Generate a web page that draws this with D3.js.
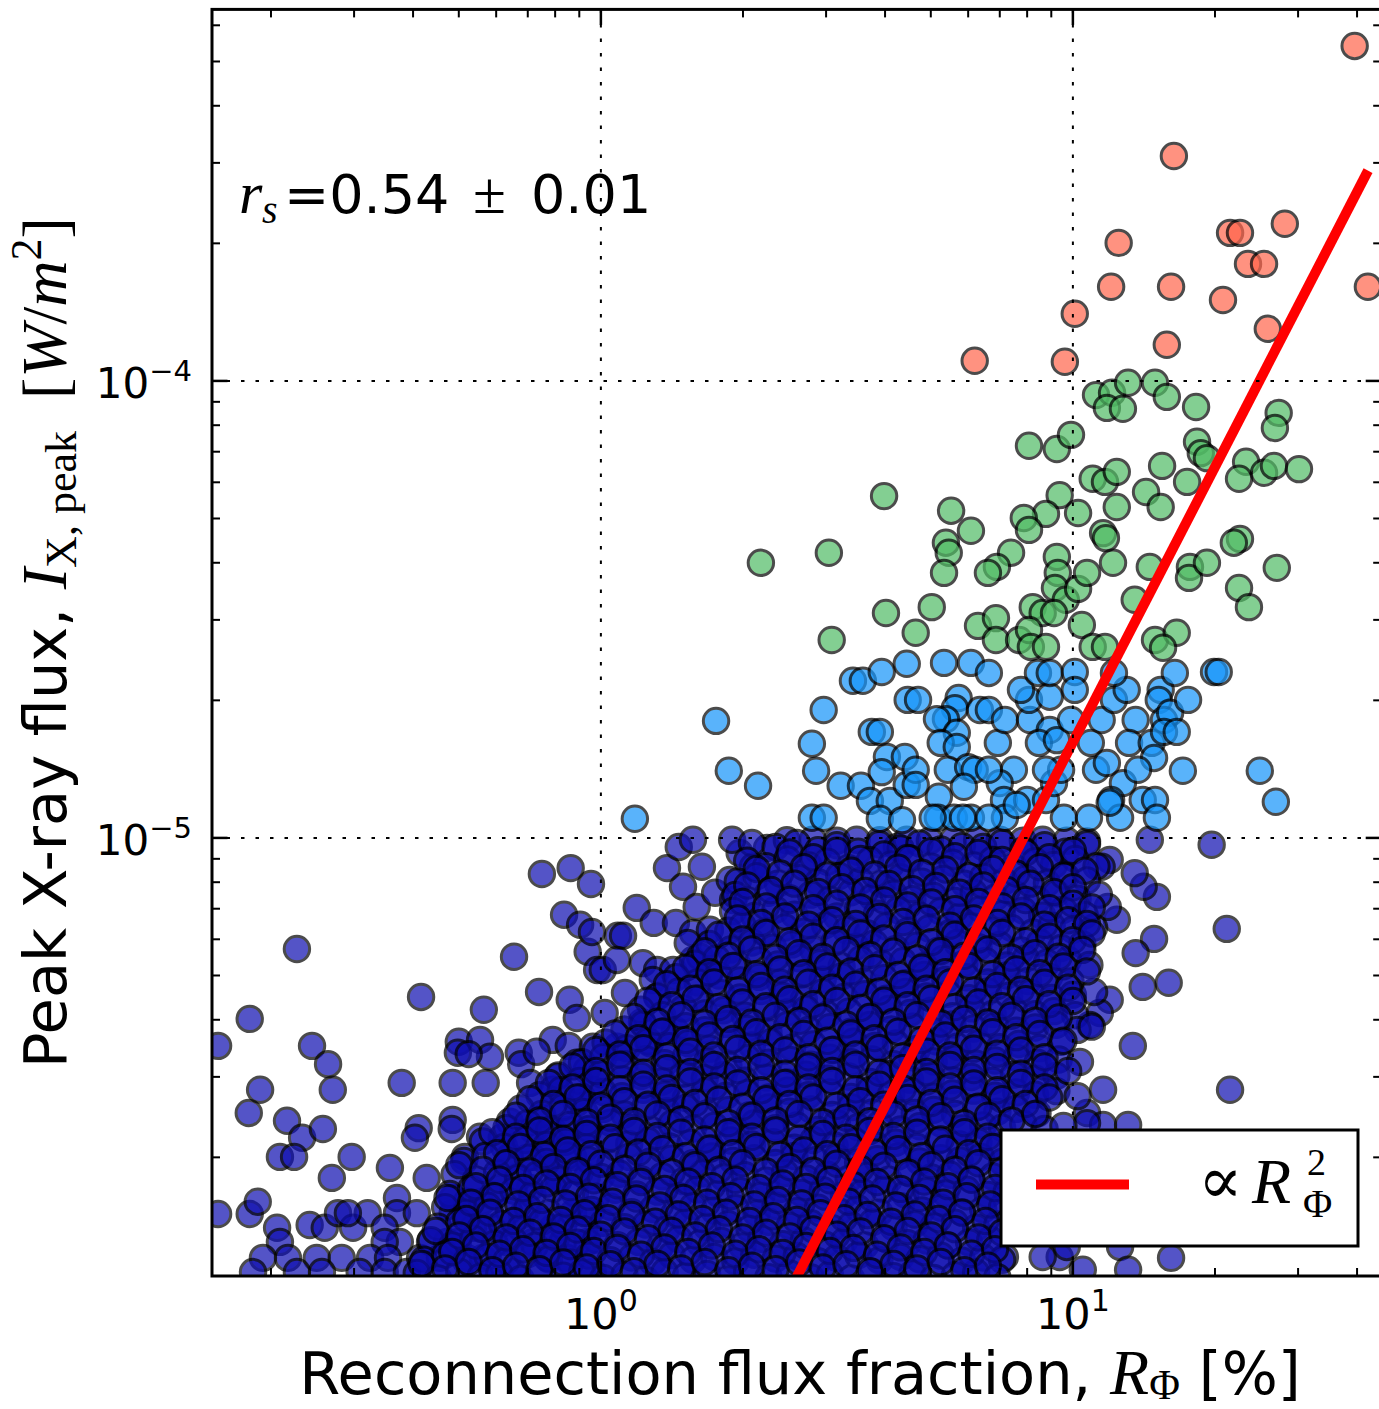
<!DOCTYPE html>
<html>
<head>
<meta charset="utf-8">
<script src="https://cdn.jsdelivr.net/npm/d3@7"></script>
<style>
  html, body { margin: 0; padding: 0; background: #ffffff; }
  svg { display: block; }
</style>
</head>
<body>
<svg id="chart" width="1379" height="1409"></svg>
<script>
// Each flare: [log10 R_Φ (%), log10 I_X,peak (W/m²)]

// C-class flares (I < 1e-5), scattered outskirts of the cloud
const cFlaresOuter = [
  [-0.644,-5.243],[-0.744,-5.396],[-0.811,-5.455],[-0.612,-5.455],[-0.578,-5.495],[-0.568,-5.551],[-0.722,-5.551],[-0.746,-5.602],
  [-0.665,-5.619],[-0.633,-5.656],[-0.589,-5.637],[-0.680,-5.698],[-0.650,-5.698],[-0.528,-5.698],[-0.570,-5.744],[-0.447,-5.722],
  [-0.369,-5.744],[-0.381,-5.348],[-0.422,-5.536],[-0.386,-5.635],[-0.394,-5.656],[-0.314,-5.617],[-0.316,-5.637],[-0.314,-5.536],
  [-0.244,-5.536],[-0.248,-5.376],[-0.301,-5.446],[-0.303,-5.470],[-0.256,-5.442],[-0.235,-5.479],[-0.280,-5.473],[-0.184,-5.260],
  [-0.131,-5.337],[-0.066,-5.354],[-0.051,-5.394],[-0.078,-5.168],[-0.044,-5.190],[-0.028,-5.249],[-0.008,-5.289],[-0.174,-5.470],
  [-0.169,-5.495],[-0.150,-5.536],[-0.102,-5.442],[-0.068,-5.455],[-0.017,-5.457],[-0.136,-5.468],[-0.093,-5.523],[-0.102,-5.551],
  [-0.051,-5.492],[-0.030,-5.508],[-0.288,-5.698],[-0.256,-5.654],[-0.210,-5.656],[-0.193,-5.621],[-0.144,-5.639],[-0.123,-5.613],
  [-0.811,-5.823],[-0.744,-5.823],[-0.727,-5.796],[-0.686,-5.853],[-0.680,-5.884],[-0.663,-5.919],[-0.716,-5.919],[-0.737,-5.950],
  [-0.617,-5.847],[-0.585,-5.853],[-0.557,-5.821],[-0.525,-5.853],[-0.494,-5.821],[-0.536,-5.821],[-0.602,-5.919],[-0.549,-5.919],
  [-0.591,-5.950],[-0.644,-5.950],[-0.432,-5.788],[-0.432,-5.821],[-0.390,-5.821],[-0.458,-5.853],[-0.426,-5.884],[-0.458,-5.884],
  [-0.489,-5.919],[-0.451,-5.919],[-0.511,-5.950],[-0.458,-5.950],[-0.411,-5.950],[-0.383,-5.919],[-0.362,-5.884],[-0.341,-5.919],
  [-0.326,-5.884],[-0.303,-5.884],[-0.314,-5.821],[-0.288,-5.821],[-0.314,-5.788],[-0.284,-5.796],[-0.252,-5.796],[-0.214,-5.766],
  [-0.176,-5.742],[-0.231,-5.853],[-0.271,-5.853],[-0.284,-5.919],[-0.250,-5.919],[-0.229,-5.950],[-0.186,-5.950],[-0.199,-5.884],
  [-0.167,-5.825],[-0.150,-5.766],[-0.144,-5.884],[-0.102,-5.853],[-0.081,-5.884],[-0.114,-5.919],[-0.072,-5.919],[-0.059,-5.821],
  [-0.087,-5.744],[-0.114,-5.698],[-0.059,-5.698],[-0.030,-5.742],[-0.028,-5.821],[-0.028,-5.884],[-0.017,-5.950],[-0.102,-5.639],
  [-0.072,-5.639],[-0.030,-5.639],[-0.051,-5.580],[-0.017,-5.551],[-0.146,-5.698],[-0.193,-5.698],
  [-0.125,-5.079],[-0.064,-5.066],[-0.021,-5.101],[-0.019,-5.206],[0.076,-5.153],[0.112,-5.186],[0.159,-5.186],[0.036,-5.214],
  [0.047,-5.214],[0.140,-5.066],[0.165,-5.020],[0.195,-5.004],[0.174,-5.107],[0.004,-5.289],[0.034,-5.267],[0.089,-5.274],
  [0.119,-5.289],[0.153,-5.289],[0.195,-5.267],[0.195,-5.208],[0.203,-5.151],
  [0.214,-5.063],[0.242,-5.120],[0.231,-5.201],[0.184,-5.230],[0.110,-5.311],[0.051,-5.339],[0.008,-5.383],[0.119,-5.348],
  [0.087,-5.403],[0.157,-5.420],[0.210,-5.260],[0.231,-5.295],[0.034,-5.457],[0.104,-5.449],[0.273,-5.092],[0.280,-5.136],
  [0.294,-5.033],[0.352,-5.022],[0.322,-5.063],[0.278,-5.004],[0.320,-5.011],
  [0.394,-5.005],[0.449,-5.004],[0.500,-5.006],[0.542,-5.004],[0.591,-5.005],[0.627,-5.020],[0.648,-5.004],[0.697,-5.006],
  [0.746,-5.004],[0.797,-5.005],[0.845,-5.004],[0.894,-5.006],[0.936,-5.004],[0.987,-5.006],[1.030,-5.008],
  [1.294,-5.015],[1.326,-5.199],[1.203,-5.317],[1.148,-5.326],[1.172,-5.221],[1.133,-5.252],[1.127,-5.455],[1.333,-5.551],
  [1.178,-5.129],[1.150,-5.107],[1.131,-5.077],[1.078,-5.048],[1.061,-5.063],[1.093,-5.179],[1.074,-5.151],[1.078,-5.354],
  [1.057,-5.383],[1.036,-5.409],[1.064,-5.551],[1.030,-5.602],[1.064,-5.628],[1.117,-5.628],[1.163,-5.004],
  [1.208,-5.919],[1.100,-5.895],[1.117,-5.945],[1.021,-5.945],[0.972,-5.917],[0.936,-5.917],[0.856,-5.917],[0.987,-5.895],
  [1.030,-5.624]
];

// C-class flares, the crowded core of the cloud
const cFlaresCore = [
  [.37,-5.02],[.415,-5.011],[.46,-5.027],[.50,-5.016],[.545,-5.03],[.59,-5.014],[.635,-5.023],[.675,-5.012],[.72,-5.025],[.765,-5.018],[.81,-5.02],[.85,-5.011],[.895,-5.027],[.94,-5.016],[.985,-5.03],[1.03,-5.014],
  [.31,-5.05],[.35,-5.062],[.395,-5.047],[.44,-5.06],[.48,-5.052],[.525,-5.066],[.57,-5.049],[.615,-5.058],[.655,-5.045],[.70,-5.063],[.745,-5.054],[.79,-5.06],[.83,-5.048],[.875,-5.064],[.92,-5.051],[.96,-5.059],[1.005,-5.046],[1.05,-5.062],
  [.29,-5.095],[.33,-5.084],[.375,-5.1],[.42,-5.088],[.46,-5.097],[.505,-5.083],[.55,-5.094],[.595,-5.101],[.635,-5.086],[.68,-5.096],[.725,-5.09],[.77,-5.1],[.81,-5.085],[.855,-5.095],[.90,-5.089],[.945,-5.099],[.985,-5.084],[1.03,-5.093],
  [.285,-5.125],[.31,-5.137],[.355,-5.12],[.40,-5.132],[.445,-5.124],[.485,-5.136],[.53,-5.119],[.575,-5.13],[.62,-5.122],[.66,-5.134],[.705,-5.127],[.75,-5.138],[.79,-5.12],[.835,-5.131],[.88,-5.125],[.925,-5.135],[.965,-5.121],[1.01,-5.133],[1.055,-5.124],
  [.28,-5.16],[.325,-5.171],[.37,-5.157],[.41,-5.168],[.455,-5.16],[.50,-5.172],[.545,-5.155],[.585,-5.166],[.63,-5.158],[.675,-5.17],[.72,-5.161],[.76,-5.173],[.805,-5.156],[.85,-5.167],[.895,-5.159],[.935,-5.17],[.98,-5.157],[1.025,-5.169],
  [.27,-5.203],[.30,-5.192],[.345,-5.207],[.39,-5.196],[.43,-5.205],[.475,-5.191],[.52,-5.202],[.565,-5.209],[.605,-5.194],[.65,-5.204],[.695,-5.198],[.74,-5.208],[.78,-5.193],[.825,-5.203],[.87,-5.197],[.915,-5.207],[.955,-5.192],[1.0,-5.201],[1.045,-5.196],
  [.23,-5.232],[.275,-5.244],[.32,-5.229],[.365,-5.24],[.405,-5.233],[.45,-5.245],[.495,-5.228],[.54,-5.238],[.58,-5.231],[.625,-5.243],[.67,-5.236],[.715,-5.247],[.755,-5.23],[.80,-5.239],[.845,-5.234],[.89,-5.246],[.93,-5.229],[.975,-5.241],[1.02,-5.233],
  [.20,-5.275],[.245,-5.264],[.29,-5.279],[.335,-5.268],[.375,-5.277],[.42,-5.263],[.465,-5.274],[.51,-5.281],[.55,-5.266],[.595,-5.276],[.64,-5.27],[.685,-5.28],[.725,-5.265],[.77,-5.275],[.815,-5.269],[.86,-5.279],[.90,-5.264],[.945,-5.273],[.99,-5.267],[1.035,-5.278],
  [.16,-5.305],[.205,-5.316],[.25,-5.301],[.295,-5.312],[.335,-5.304],[.38,-5.317],[.425,-5.299],[.47,-5.31],[.51,-5.303],[.555,-5.315],[.60,-5.307],[.645,-5.318],[.685,-5.3],[.73,-5.311],[.775,-5.305],[.82,-5.316],[.86,-5.301],[.905,-5.313],[.95,-5.304],[.995,-5.314],
  [.12,-5.347],[.165,-5.336],[.21,-5.351],[.255,-5.34],[.295,-5.349],[.34,-5.335],[.385,-5.346],[.43,-5.353],[.47,-5.338],[.515,-5.348],[.56,-5.342],[.605,-5.352],[.645,-5.337],[.69,-5.347],[.735,-5.341],[.78,-5.351],[.82,-5.336],[.865,-5.345],[.91,-5.339],[.955,-5.35],[1.0,-5.343],[1.045,-5.337],
  [.085,-5.376],[.13,-5.388],[.175,-5.373],[.22,-5.384],[.26,-5.377],[.305,-5.389],[.35,-5.372],[.395,-5.382],[.435,-5.375],[.48,-5.387],[.525,-5.38],[.57,-5.391],[.61,-5.374],[.655,-5.383],[.70,-5.378],[.745,-5.39],[.785,-5.373],[.83,-5.385],[.875,-5.377],[.92,-5.386],[.96,-5.379],[1.005,-5.388],
  [.05,-5.419],[.09,-5.408],[.135,-5.423],[.18,-5.412],[.22,-5.421],[.265,-5.407],[.31,-5.418],[.355,-5.425],[.395,-5.41],[.44,-5.42],[.485,-5.414],[.53,-5.424],[.57,-5.409],[.615,-5.419],[.66,-5.413],[.705,-5.423],[.745,-5.408],[.79,-5.417],[.835,-5.411],[.88,-5.422],[.92,-5.415],[.965,-5.409],[1.01,-5.42],[1.04,-5.413],
  [.01,-5.448],[.055,-5.46],[.10,-5.445],[.145,-5.456],[.185,-5.449],[.23,-5.461],[.275,-5.444],[.32,-5.454],[.36,-5.447],[.405,-5.459],[.45,-5.452],[.495,-5.463],[.535,-5.446],[.58,-5.455],[.625,-5.45],[.67,-5.462],[.71,-5.445],[.755,-5.457],[.80,-5.449],[.845,-5.458],[.885,-5.451],[.93,-5.46],[.975,-5.446],
  [-.04,-5.491],[.005,-5.48],[.05,-5.495],[.095,-5.484],[.135,-5.493],[.18,-5.479],[.225,-5.49],[.27,-5.497],[.31,-5.482],[.355,-5.492],[.40,-5.486],[.445,-5.496],[.485,-5.481],[.53,-5.491],[.575,-5.485],[.62,-5.495],[.66,-5.48],[.705,-5.489],[.75,-5.483],[.795,-5.494],[.835,-5.487],[.88,-5.481],[.925,-5.492],[.97,-5.485],[1.015,-5.49],
  [-.09,-5.52],[-.045,-5.532],[0,-5.517],[.045,-5.528],[.085,-5.521],[.13,-5.533],[.175,-5.516],[.22,-5.526],[.26,-5.519],[.305,-5.531],[.35,-5.524],[.395,-5.535],[.435,-5.518],[.48,-5.527],[.525,-5.522],[.57,-5.534],[.61,-5.517],[.655,-5.529],[.70,-5.521],[.745,-5.53],[.785,-5.523],[.83,-5.532],[.875,-5.518],[.92,-5.527],[.965,-5.521],
  [-.13,-5.563],[-.085,-5.552],[-.04,-5.567],[.005,-5.556],[.045,-5.565],[.09,-5.551],[.135,-5.562],[.18,-5.569],[.22,-5.554],[.265,-5.564],[.31,-5.558],[.355,-5.568],[.395,-5.553],[.44,-5.563],[.485,-5.557],[.53,-5.567],[.57,-5.552],[.615,-5.561],[.66,-5.555],[.705,-5.566],[.745,-5.559],[.79,-5.553],[.835,-5.564],[.88,-5.557],[.92,-5.562],[.965,-5.554],[1.01,-5.565],
  [-.17,-5.592],[-.125,-5.604],[-.08,-5.589],[-.035,-5.6],[.005,-5.593],[.05,-5.605],[.095,-5.588],[.14,-5.598],[.18,-5.591],[.225,-5.603],[.27,-5.596],[.315,-5.607],[.355,-5.59],[.40,-5.599],[.445,-5.594],[.49,-5.606],[.53,-5.589],[.575,-5.601],[.62,-5.593],[.665,-5.602],[.705,-5.595],[.75,-5.604],[.795,-5.59],[.84,-5.599],[.88,-5.593],[.925,-5.603],
  [-.20,-5.635],[-.155,-5.624],[-.11,-5.639],[-.065,-5.628],[-.025,-5.637],[.02,-5.623],[.065,-5.634],[.11,-5.641],[.15,-5.626],[.195,-5.636],[.24,-5.63],[.285,-5.64],[.325,-5.625],[.37,-5.635],[.415,-5.629],[.46,-5.639],[.50,-5.624],[.545,-5.633],[.59,-5.627],[.635,-5.638],[.675,-5.631],[.72,-5.625],[.765,-5.636],[.81,-5.629],[.85,-5.634],[.895,-5.626],[.94,-5.637],[.98,-5.63],
  [-.25,-5.664],[-.205,-5.676],[-.16,-5.661],[-.115,-5.672],[-.075,-5.665],[-.03,-5.677],[.015,-5.66],[.06,-5.67],[.10,-5.663],[.145,-5.675],[.19,-5.668],[.235,-5.679],[.275,-5.662],[.32,-5.671],[.365,-5.666],[.41,-5.678],[.45,-5.661],[.495,-5.673],[.54,-5.665],[.585,-5.674],[.625,-5.667],[.67,-5.676],[.715,-5.662],[.76,-5.671],[.80,-5.665],[.845,-5.675],
  [-.29,-5.707],[-.245,-5.696],[-.20,-5.711],[-.155,-5.7],[-.115,-5.709],[-.07,-5.695],[-.025,-5.706],[.02,-5.713],[.06,-5.698],[.105,-5.708],[.15,-5.702],[.195,-5.712],[.235,-5.697],[.28,-5.707],[.325,-5.701],[.37,-5.711],[.41,-5.696],[.455,-5.705],[.50,-5.699],[.545,-5.71],[.585,-5.703],[.63,-5.697],[.675,-5.708],[.72,-5.701],[.76,-5.706],[.805,-5.698],[.85,-5.709],
  [-.31,-5.736],[-.265,-5.748],[-.22,-5.733],[-.175,-5.744],[-.135,-5.737],[-.09,-5.749],[-.045,-5.732],[0,-5.742],[.04,-5.735],[.085,-5.747],[.13,-5.74],[.175,-5.751],[.215,-5.734],[.26,-5.743],[.305,-5.738],[.35,-5.75],[.39,-5.733],[.435,-5.745],[.48,-5.737],[.525,-5.746],[.565,-5.739],[.61,-5.748],[.655,-5.734],[.70,-5.743],[.74,-5.737],[.785,-5.747],[.83,-5.741],
  [-.32,-5.779],[-.275,-5.768],[-.23,-5.783],[-.185,-5.772],[-.145,-5.781],[-.10,-5.767],[-.055,-5.778],[-.01,-5.785],[.03,-5.77],[.075,-5.78],[.12,-5.774],[.165,-5.784],[.205,-5.769],[.25,-5.779],[.295,-5.773],[.34,-5.783],[.38,-5.768],[.425,-5.777],[.47,-5.771],[.515,-5.782],[.555,-5.775],[.60,-5.769],[.645,-5.78],[.69,-5.773],[.73,-5.778],[.775,-5.77],[.82,-5.781],[.86,-5.774],
  [-.33,-5.808],[-.285,-5.82],[-.24,-5.805],[-.195,-5.816],[-.155,-5.809],[-.11,-5.821],[-.065,-5.804],[-.02,-5.814],[.02,-5.807],[.065,-5.819],[.11,-5.812],[.155,-5.823],[.195,-5.806],[.24,-5.815],[.285,-5.81],[.33,-5.822],[.37,-5.805],[.415,-5.817],[.46,-5.809],[.505,-5.818],[.545,-5.811],[.59,-5.82],[.635,-5.806],[.68,-5.815],[.72,-5.809],[.765,-5.819],[.81,-5.813],[.85,-5.807],
  [-.345,-5.851],[-.30,-5.84],[-.255,-5.855],[-.21,-5.844],[-.17,-5.853],[-.125,-5.839],[-.08,-5.85],[-.035,-5.857],[.005,-5.842],[.05,-5.852],[.095,-5.846],[.14,-5.856],[.18,-5.841],[.225,-5.851],[.27,-5.845],[.315,-5.855],[.355,-5.84],[.40,-5.849],[.445,-5.843],[.49,-5.854],[.53,-5.847],[.575,-5.841],[.62,-5.852],[.665,-5.845],[.705,-5.85],[.75,-5.842],[.795,-5.853],[.84,-5.846],
  [-.36,-5.88],[-.315,-5.892],[-.27,-5.877],[-.225,-5.888],[-.185,-5.881],[-.14,-5.893],[-.095,-5.876],[-.05,-5.886],[-.01,-5.879],[.035,-5.891],[.08,-5.884],[.125,-5.895],[.165,-5.878],[.21,-5.887],[.255,-5.882],[.30,-5.894],[.34,-5.877],[.385,-5.889],[.43,-5.881],[.475,-5.89],[.515,-5.883],[.56,-5.892],[.605,-5.878],[.65,-5.887],[.69,-5.881],[.735,-5.891],[.78,-5.885],[.825,-5.879],
  [-.375,-5.923],[-.33,-5.912],[-.285,-5.927],[-.24,-5.916],[-.20,-5.925],[-.155,-5.911],[-.11,-5.922],[-.065,-5.929],[-.025,-5.914],[.02,-5.924],[.065,-5.918],[.11,-5.928],[.15,-5.913],[.195,-5.923],[.24,-5.917],[.285,-5.927],[.325,-5.912],[.37,-5.921],[.415,-5.915],[.46,-5.926],[.50,-5.919],[.545,-5.913],[.59,-5.924],[.635,-5.917],[.675,-5.922],[.72,-5.914],[.765,-5.925],[.81,-5.918],[.85,-5.923],
  [-.39,-5.952],[-.345,-5.964],[-.30,-5.949],[-.255,-5.96],[-.215,-5.953],[-.17,-5.965],[-.125,-5.948],[-.08,-5.958],[-.04,-5.951],[.005,-5.963],[.05,-5.956],[.095,-5.967],[.135,-5.95],[.18,-5.959],[.225,-5.954],[.27,-5.966],[.31,-5.949],[.355,-5.961],[.40,-5.953],[.445,-5.962],[.485,-5.955],[.53,-5.964],[.575,-5.95],[.62,-5.959],[.66,-5.953],[.705,-5.963],[.75,-5.957],[.795,-5.951],[.84,-5.961]
];

// C-class flares lying between the rows of the core above
const cFlaresCoreBetween = [
  [.40,-5.032],[.45,-5.042],[.50,-5.028],[.55,-5.046],[.60,-5.036],[.65,-5.044],[.70,-5.029],[.75,-5.04],[.80,-5.033],[.85,-5.048],[.90,-5.032],[.95,-5.042],[1.0,-5.028],
  [.33,-5.068],[.38,-5.078],[.43,-5.064],[.48,-5.082],[.53,-5.072],[.58,-5.08],[.63,-5.065],[.68,-5.076],[.73,-5.069],[.78,-5.084],[.83,-5.068],[.88,-5.078],[.93,-5.064],[.98,-5.082],[1.025,-5.072],
  [.31,-5.104],[.36,-5.114],[.41,-5.1],[.46,-5.118],[.51,-5.108],[.56,-5.116],[.61,-5.101],[.66,-5.112],[.71,-5.105],[.76,-5.12],[.81,-5.104],[.86,-5.114],[.91,-5.1],[.96,-5.118],[1.0,-5.108],
  [.30,-5.14],[.35,-5.15],[.40,-5.136],[.45,-5.154],[.50,-5.144],[.55,-5.152],[.60,-5.137],[.65,-5.148],[.70,-5.141],[.75,-5.156],[.80,-5.14],[.85,-5.15],[.90,-5.136],[.95,-5.154],[1.0,-5.144],[1.04,-5.152],
  [.29,-5.176],[.34,-5.186],[.39,-5.172],[.44,-5.19],[.49,-5.18],[.54,-5.188],[.59,-5.173],[.64,-5.184],[.69,-5.177],[.74,-5.192],[.79,-5.176],[.84,-5.186],[.89,-5.172],[.94,-5.19],[.99,-5.18],[1.03,-5.188],
  [.25,-5.212],[.30,-5.222],[.35,-5.208],[.40,-5.226],[.45,-5.216],[.50,-5.224],[.55,-5.209],[.60,-5.22],[.65,-5.213],[.70,-5.228],[.75,-5.212],[.80,-5.222],[.85,-5.208],[.90,-5.226],[.95,-5.216],[1.0,-5.224],[1.04,-5.209],
  [.22,-5.248],[.27,-5.258],[.32,-5.244],[.37,-5.262],[.42,-5.252],[.47,-5.26],[.52,-5.245],[.57,-5.256],[.62,-5.249],[.67,-5.264],[.72,-5.248],[.77,-5.258],[.82,-5.244],[.87,-5.262],[.92,-5.252],[.97,-5.26],[1.02,-5.245],
  [.18,-5.284],[.23,-5.294],[.28,-5.28],[.33,-5.298],[.38,-5.288],[.43,-5.296],[.48,-5.281],[.53,-5.292],[.58,-5.285],[.63,-5.3],[.68,-5.284],[.73,-5.294],[.78,-5.28],[.83,-5.298],[.88,-5.288],[.93,-5.296],[.98,-5.281],[1.03,-5.292],
  [.14,-5.32],[.19,-5.33],[.24,-5.316],[.29,-5.334],[.34,-5.324],[.39,-5.332],[.44,-5.317],[.49,-5.328],[.54,-5.321],[.59,-5.336],[.64,-5.32],[.69,-5.33],[.74,-5.316],[.79,-5.334],[.84,-5.324],[.89,-5.332],[.94,-5.317],[.99,-5.328],
  [.10,-5.356],[.15,-5.366],[.20,-5.352],[.25,-5.37],[.30,-5.36],[.35,-5.368],[.40,-5.353],[.45,-5.364],[.50,-5.357],[.55,-5.372],[.60,-5.356],[.65,-5.366],[.70,-5.352],[.75,-5.37],[.80,-5.36],[.85,-5.368],[.90,-5.353],[.95,-5.364],[1.0,-5.357],
  [.07,-5.392],[.12,-5.402],[.17,-5.388],[.22,-5.406],[.27,-5.396],[.32,-5.404],[.37,-5.389],[.42,-5.4],[.47,-5.393],[.52,-5.408],[.57,-5.392],[.62,-5.402],[.67,-5.388],[.72,-5.406],[.77,-5.396],[.82,-5.404],[.87,-5.389],[.92,-5.4],[.97,-5.393],
  [.03,-5.428],[.08,-5.438],[.13,-5.424],[.18,-5.442],[.23,-5.432],[.28,-5.44],[.33,-5.425],[.38,-5.436],[.43,-5.429],[.48,-5.444],[.53,-5.428],[.58,-5.438],[.63,-5.424],[.68,-5.442],[.73,-5.432],[.78,-5.44],[.83,-5.425],[.88,-5.436],[.93,-5.429],[.98,-5.444],
  [-.01,-5.464],[.04,-5.474],[.09,-5.46],[.14,-5.478],[.19,-5.468],[.24,-5.476],[.29,-5.461],[.34,-5.472],[.39,-5.465],[.44,-5.48],[.49,-5.464],[.54,-5.474],[.59,-5.46],[.64,-5.478],[.69,-5.468],[.74,-5.476],[.79,-5.461],[.84,-5.472],[.89,-5.465],[.94,-5.48],
  [-.06,-5.5],[-.01,-5.51],[.04,-5.496],[.09,-5.514],[.14,-5.504],[.19,-5.512],[.24,-5.497],[.29,-5.508],[.34,-5.501],[.39,-5.516],[.44,-5.5],[.49,-5.51],[.54,-5.496],[.59,-5.514],[.64,-5.504],[.69,-5.512],[.74,-5.497],[.79,-5.508],[.84,-5.501],[.89,-5.516],[.94,-5.5],[.99,-5.51],
  [-.11,-5.536],[-.06,-5.546],[-.01,-5.532],[.04,-5.55],[.09,-5.54],[.14,-5.548],[.19,-5.533],[.24,-5.544],[.29,-5.537],[.34,-5.552],[.39,-5.536],[.44,-5.546],[.49,-5.532],[.54,-5.55],[.59,-5.54],[.64,-5.548],[.69,-5.533],[.74,-5.544],[.79,-5.537],[.84,-5.552],[.89,-5.536],[.94,-5.546],
  [-.15,-5.572],[-.10,-5.582],[-.05,-5.568],[0,-5.586],[.05,-5.576],[.10,-5.584],[.15,-5.569],[.20,-5.58],[.25,-5.573],[.30,-5.588],[.35,-5.572],[.40,-5.582],[.45,-5.568],[.50,-5.586],[.55,-5.576],[.60,-5.584],[.65,-5.569],[.70,-5.58],[.75,-5.573],[.80,-5.588],[.85,-5.572],[.90,-5.582],[.95,-5.568],
  [-.18,-5.608],[-.13,-5.618],[-.08,-5.604],[-.03,-5.622],[.02,-5.612],[.07,-5.62],[.12,-5.605],[.17,-5.616],[.22,-5.609],[.27,-5.624],[.32,-5.608],[.37,-5.618],[.42,-5.604],[.47,-5.622],[.52,-5.612],[.57,-5.62],[.62,-5.605],[.67,-5.616],[.72,-5.609],[.77,-5.624],[.82,-5.608],[.87,-5.618],[.92,-5.604],
  [-.23,-5.644],[-.18,-5.654],[-.13,-5.64],[-.08,-5.658],[-.03,-5.648],[.02,-5.656],[.07,-5.641],[.12,-5.652],[.17,-5.645],[.22,-5.66],[.27,-5.644],[.32,-5.654],[.37,-5.64],[.42,-5.658],[.47,-5.648],[.52,-5.656],[.57,-5.641],[.62,-5.652],[.67,-5.645],[.72,-5.66],[.77,-5.644],[.82,-5.654],
  [-.22,-5.69],[-.17,-5.676],[-.12,-5.694],[-.07,-5.684],[-.02,-5.692],[.03,-5.677],[.08,-5.688],[.13,-5.681],[.18,-5.696],[.23,-5.68],[.28,-5.69],[.33,-5.676],[.38,-5.694],[.43,-5.684],[.48,-5.692],[.53,-5.677],[.58,-5.688],[.63,-5.681],[.68,-5.696],[.73,-5.68],[.78,-5.69],[.83,-5.676],
  [-.30,-5.716],[-.25,-5.726],[-.20,-5.712],[-.15,-5.73],[-.10,-5.72],[-.05,-5.728],[0,-5.713],[.05,-5.724],[.10,-5.717],[.15,-5.732],[.20,-5.716],[.25,-5.726],[.30,-5.712],[.35,-5.73],[.40,-5.72],[.45,-5.728],[.50,-5.713],[.55,-5.724],[.60,-5.717],[.65,-5.732],[.70,-5.716],[.75,-5.726],[.80,-5.712],[.85,-5.73],
  [-.265,-5.762],[-.215,-5.748],[-.165,-5.766],[-.115,-5.756],[-.065,-5.764],[-.015,-5.749],[.035,-5.76],[.085,-5.753],[.135,-5.768],[.185,-5.752],[.235,-5.762],[.285,-5.748],[.335,-5.766],[.385,-5.756],[.435,-5.764],[.485,-5.749],[.535,-5.76],[.585,-5.753],[.635,-5.768],[.685,-5.752],[.735,-5.762],[.785,-5.748],[.835,-5.766],
  [-.325,-5.788],[-.275,-5.798],[-.225,-5.784],[-.175,-5.802],[-.125,-5.792],[-.075,-5.8],[-.025,-5.785],[.025,-5.796],[.075,-5.789],[.125,-5.804],[.175,-5.788],[.225,-5.798],[.275,-5.784],[.325,-5.802],[.375,-5.792],[.425,-5.8],[.475,-5.785],[.525,-5.796],[.575,-5.789],[.625,-5.804],[.675,-5.788],[.725,-5.798],[.775,-5.784],[.825,-5.802],
  [-.285,-5.834],[-.235,-5.82],[-.185,-5.838],[-.135,-5.828],[-.085,-5.836],[-.035,-5.821],[.015,-5.832],[.065,-5.825],[.115,-5.84],[.165,-5.824],[.215,-5.834],[.265,-5.82],[.315,-5.838],[.365,-5.828],[.415,-5.836],[.465,-5.821],[.515,-5.832],[.565,-5.825],[.615,-5.84],[.665,-5.824],[.715,-5.834],[.765,-5.82],[.815,-5.838],
  [-.35,-5.86],[-.30,-5.87],[-.25,-5.856],[-.20,-5.874],[-.15,-5.864],[-.10,-5.872],[-.05,-5.857],[0,-5.868],[.05,-5.861],[.10,-5.876],[.15,-5.86],[.20,-5.87],[.25,-5.856],[.30,-5.874],[.35,-5.864],[.40,-5.872],[.45,-5.857],[.50,-5.868],[.55,-5.861],[.60,-5.876],[.65,-5.86],[.70,-5.87],[.75,-5.856],[.80,-5.874],[.85,-5.864],
  [-.315,-5.906],[-.265,-5.892],[-.215,-5.91],[-.165,-5.9],[-.115,-5.908],[-.065,-5.893],[-.015,-5.904],[.035,-5.897],[.085,-5.912],[.135,-5.896],[.185,-5.906],[.235,-5.892],[.285,-5.91],[.335,-5.9],[.385,-5.908],[.435,-5.893],[.485,-5.904],[.535,-5.897],[.585,-5.912],[.635,-5.896],[.685,-5.906],[.735,-5.892],[.785,-5.91],[.835,-5.9],
  [-.38,-5.932],[-.33,-5.942],[-.28,-5.928],[-.23,-5.946],[-.18,-5.936],[-.13,-5.944],[-.08,-5.929],[-.03,-5.94],[.02,-5.933],[.07,-5.948],[.12,-5.932],[.17,-5.942],[.22,-5.928],[.27,-5.946],[.32,-5.936],[.37,-5.944],[.42,-5.929],[.47,-5.94],[.52,-5.933],[.57,-5.948],[.62,-5.932],[.67,-5.942],[.72,-5.928],[.77,-5.946],[.82,-5.936]
];

// Lower M-class flares (1e-5 ≤ I < 2.5e-5)
const mFlaresLow = [
  [0.244,-4.744],[0.271,-4.853],[0.333,-4.886],[0.072,-4.958],[0.472,-4.720],[0.447,-4.794],[0.456,-4.853],[0.508,-4.886],
  [0.551,-4.886],[0.534,-4.656],[0.555,-4.656],[0.595,-4.637],[0.574,-4.768],[0.591,-4.768],[0.606,-4.823],[0.595,-4.856],
  [0.570,-4.919],[0.612,-4.919],[0.591,-4.958],[0.447,-4.956],[0.472,-4.956],[0.644,-4.823],[0.648,-4.619],[0.650,-4.698],
  [0.648,-4.884],[0.638,-4.961],[0.727,-4.617],[0.784,-4.617],[0.822,-4.639],[0.672,-4.698],[0.758,-4.694],[0.750,-4.716],
  [0.803,-4.720],[0.822,-4.720],[0.731,-4.740],[0.712,-4.740],[0.754,-4.770],[0.667,-4.851],[0.667,-4.884],[0.720,-4.792],
  [0.754,-4.801],[0.735,-4.851],[0.716,-4.910],[0.714,-4.956],[0.778,-4.845],[0.792,-4.851],[0.769,-4.888],[0.748,-4.956],
  [0.784,-4.956],[0.841,-4.792],[0.856,-4.742],[0.909,-4.742],[0.907,-4.698],[0.890,-4.676],[0.926,-4.639],[0.951,-4.691],
  [0.951,-4.639],[1.004,-4.637],[0.951,-4.764],[0.928,-4.792],[0.966,-4.786],[0.875,-4.851],[0.845,-4.880],[0.822,-4.851],
  [0.854,-4.917],[0.856,-4.956],[0.822,-4.956],[0.903,-4.917],[0.943,-4.917],[0.960,-4.880],[0.975,-4.851],[0.943,-4.851],
  [0.996,-4.742],[1.004,-4.676],[0.981,-4.956],[1.034,-4.956],[1.038,-4.792],[1.061,-4.742],[1.087,-4.698],[1.114,-4.676],
  [1.087,-4.639],[1.049,-4.851],[1.072,-4.836],[1.106,-4.880],[1.081,-4.917],[1.100,-4.956],[1.133,-4.742],[1.119,-4.792],
  [1.167,-4.792],[1.172,-4.825],[1.138,-4.851],[1.148,-4.917],[1.174,-4.917],[1.178,-4.956],[1.186,-4.676],[1.182,-4.698],
  [1.193,-4.742],[1.206,-4.726],[1.193,-4.768],[1.220,-4.768],[1.216,-4.639],[1.244,-4.698],[1.233,-4.853],[1.299,-4.637],
  [1.309,-4.637],[1.396,-4.853],[1.430,-4.921],[0.703,-4.956],[0.767,-4.956],[0.881,-4.928],[1.078,-4.923]
];

// Upper M-class flares (2.5e-5 ≤ I < 1e-4)
const mFlaresHigh = [
  [1.049,-4.031],[1.083,-4.026],[1.117,-4.004],[1.174,-4.004],[1.199,-4.035],[1.072,-4.059],[1.106,-4.061],[1.261,-4.057],
  [1.436,-4.070],[1.428,-4.103],[0.907,-4.142],[0.966,-4.149],[0.996,-4.118],[1.263,-4.133],[1.271,-4.158],[1.284,-4.169],
  [1.189,-4.186],[1.242,-4.221],[1.367,-4.177],[1.352,-4.214],[1.405,-4.201],[1.426,-4.186],[1.479,-4.193],[1.042,-4.214],
  [1.068,-4.221],[1.093,-4.199],[1.155,-4.243],[1.186,-4.276],[1.093,-4.276],[0.600,-4.252],[0.742,-4.284],[0.784,-4.328],
  [0.972,-4.250],[0.943,-4.291],[1.011,-4.289],[0.896,-4.300],[0.907,-4.326],[0.731,-4.354],[0.737,-4.376],[0.727,-4.420],
  [0.869,-4.376],[0.839,-4.407],[0.820,-4.420],[0.966,-4.385],[0.968,-4.420],[0.962,-4.453],[0.985,-4.479],[1.011,-4.455],
  [1.030,-4.420],[1.064,-4.333],[1.070,-4.344],[1.085,-4.398],[1.163,-4.407],[1.248,-4.407],[1.246,-4.431],[1.284,-4.398],
  [1.354,-4.346],[1.341,-4.354],[1.432,-4.409],[0.483,-4.376],[0.604,-4.508],[0.701,-4.495],[1.131,-4.479],[1.352,-4.453],
  [1.373,-4.495],[0.915,-4.495],[0.936,-4.508],[0.960,-4.508],[0.489,-4.567],[0.667,-4.551],[0.799,-4.536],[0.837,-4.519],
  [0.837,-4.567],[0.886,-4.567],[0.907,-4.545],[0.911,-4.582],[0.943,-4.582],[1.019,-4.534],[1.042,-4.582],[1.068,-4.582],
  [1.174,-4.567],[1.220,-4.551],[1.191,-4.584],[0.339,-4.398]
];

// X-class flares (I ≥ 1e-4)
const xFlares = [
  [1.597,-3.267],[1.214,-3.508],[1.097,-3.698],[1.333,-3.676],[1.354,-3.676],[1.449,-3.656],[1.371,-3.744],[1.405,-3.744],
  [1.081,-3.794],[1.208,-3.794],[1.318,-3.823],[1.625,-3.794],[1.004,-3.853],[1.413,-3.886],[1.199,-3.921],[0.983,-3.958],
  [0.792,-3.956]
];

// Power-law guide I ∝ R_Φ^2
const fitCoefficient = 1.62e-7;   // W/m² per %²
const fitExponent = 2;
const fitRange = [0.15, 42.2];    // R_Φ span of the guide (%)

// Axis ticks
const xMajorTicks = [1, 10];
const xMajorExponents = ["0", "1"];
const xMinorTicks = [0.2, 0.3, 0.4, 0.5, 0.6, 0.7, 0.8, 0.9, 2, 3, 4, 5, 6, 7, 8, 9, 20, 30, 40];
const yMajorTicks = [1e-5, 1e-4];
const yMajorExponents = ["\u22125", "\u22124"];
const yMinorTicks = [2e-6, 3e-6, 4e-6, 5e-6, 6e-6, 7e-6, 8e-6, 9e-6,
                     2e-5, 3e-5, 4e-5, 5e-5, 6e-5, 7e-5, 8e-5, 9e-5,
                     2e-4, 3e-4, 4e-4, 5e-4, 6e-4];

const correlationText = { coefficient: "0.54", error: "0.01" };

// ---------------------------------------------------------------
const SANS = "'DejaVu Sans', sans-serif";
const SERIF = "'Liberation Serif', 'DejaVu Serif', serif";

const seriesStyles = [
  { data: cFlaresOuter,       fill: "rgb(12,12,176)" },
  { data: cFlaresCore,        fill: "rgb(12,12,176)" },
  { data: cFlaresCoreBetween, fill: "rgb(12,12,176)" },
  { data: mFlaresLow,         fill: "rgb(20,148,250)" },
  { data: mFlaresHigh,        fill: "rgb(80,188,100)" },
  { data: xFlares,            fill: "rgb(255,100,75)" }
];

const frame = { left: 212, top: 9.4, bottom: 1276 };
const x = d3.scaleLog().domain([0.15, 45])
  .range([frame.left, frame.left + 472 * Math.log10(45 / 0.15)]);
const y = d3.scaleLog().domain([1.1e-6, 6.5e-4])
  .range([frame.bottom, frame.bottom - 457 * Math.log10(6.5e-4 / 1.1e-6)]);
frame.right = x.range()[1];

const svg = d3.select("#chart");

svg.append("defs").append("clipPath").attr("id", "plot-clip")
  .append("rect")
  .attr("x", frame.left).attr("y", frame.top)
  .attr("width", frame.right - frame.left).attr("height", frame.bottom - frame.top);

const plot = svg.append("g").attr("clip-path", "url(#plot-clip)");

// scatter markers
seriesStyles.forEach(s => {
  plot.append("g")
    .selectAll("circle")
    .data(s.data)
    .join("circle")
    .attr("cx", d => x(Math.pow(10, d[0])))
    .attr("cy", d => y(Math.pow(10, d[1])))
    .attr("r", 12.7)
    .attr("fill", s.fill)
    .attr("stroke", "#000")
    .attr("stroke-width", 3)
    .attr("opacity", 0.7);
});

// power-law guide
const fitLine = d3.line()
  .x(r => x(r))
  .y(r => y(fitCoefficient * Math.pow(r, fitExponent)));
plot.append("path")
  .attr("d", fitLine(fitRange))
  .attr("fill", "none")
  .attr("stroke", "#ff0000")
  .attr("stroke-width", 10);

// dotted grid at major ticks
const grid = plot.append("g")
  .attr("stroke", "#000").attr("stroke-width", 2)
  .attr("stroke-dasharray", "3.5,11");
xMajorTicks.forEach(t => grid.append("line")
  .attr("x1", x(t)).attr("x2", x(t)).attr("y1", frame.top).attr("y2", frame.bottom));
yMajorTicks.forEach(t => grid.append("line")
  .attr("y1", y(t)).attr("y2", y(t)).attr("x1", frame.left).attr("x2", frame.right));

// ticks pointing inward on every side
const ticks = svg.append("g").attr("stroke", "#000");
const MAJOR = 15.5, MINOR = 8;
function xTick(v, len, w) {
  ticks.append("line").attr("x1", x(v)).attr("x2", x(v))
    .attr("y1", frame.bottom).attr("y2", frame.bottom - len).attr("stroke-width", w);
  ticks.append("line").attr("x1", x(v)).attr("x2", x(v))
    .attr("y1", frame.top).attr("y2", frame.top + len).attr("stroke-width", w);
}
function yTick(v, len, w) {
  ticks.append("line").attr("y1", y(v)).attr("y2", y(v))
    .attr("x1", frame.left).attr("x2", frame.left + len).attr("stroke-width", w);
  ticks.append("line").attr("y1", y(v)).attr("y2", y(v))
    .attr("x1", frame.right).attr("x2", frame.right - len).attr("stroke-width", w);
}
xMajorTicks.forEach(v => xTick(v, MAJOR, 2.5));
xMinorTicks.forEach(v => xTick(v, MINOR, 2));
yMajorTicks.forEach(v => yTick(v, MAJOR, 2.5));
yMinorTicks.forEach(v => yTick(v, MINOR, 2));

// frame
svg.append("rect")
  .attr("x", frame.left).attr("y", frame.top)
  .attr("width", frame.right - frame.left).attr("height", frame.bottom - frame.top)
  .attr("fill", "none").attr("stroke", "#000").attr("stroke-width", 3);

// tick labels
const tickLabels = svg.append("g").attr("font-family", SANS).attr("fill", "#000");
xMajorTicks.forEach((t, i) => {
  const tx = tickLabels.append("text")
    .attr("x", x(t)).attr("y", 1329).attr("text-anchor", "middle").attr("font-size", 43);
  tx.append("tspan").text("10");
  tx.append("tspan").attr("dy", -18).attr("font-size", 30).text(xMajorExponents[i]);
});
yMajorTicks.forEach((t, i) => {
  const ty = tickLabels.append("text")
    .attr("x", 192).attr("y", y(t) + 17).attr("text-anchor", "end").attr("font-size", 42);
  ty.append("tspan").text("10");
  ty.append("tspan").attr("dy", -17).attr("font-size", 29).text(yMajorExponents[i]);
});

// x axis title
const xt = svg.append("text")
  .attr("x", 800).attr("y", 1394).attr("text-anchor", "middle")
  .attr("font-family", SANS).attr("font-size", 59).attr("fill", "#000");
xt.append("tspan").text("Reconnection flux fraction, ");
xt.append("tspan").attr("font-family", SERIF).attr("font-style", "italic").attr("font-size", 64).text("R");
xt.append("tspan").attr("font-family", SERIF).attr("font-size", 42).attr("dy", 5).text("\u03A6");
xt.append("tspan").attr("dy", -5).text(" [%]");

// y axis title
const yt = svg.append("text")
  .attr("transform", "translate(66,642.5) rotate(-90)")
  .attr("text-anchor", "middle")
  .attr("font-family", SANS).attr("font-size", 59).attr("fill", "#000");
yt.append("tspan").text("Peak X-ray flux, ");
yt.append("tspan").attr("font-family", SERIF).attr("font-style", "italic").attr("font-size", 64).text("I");
yt.append("tspan").attr("font-family", SERIF).attr("font-size", 44).attr("dy", 10).text("X, peak");
yt.append("tspan").attr("dy", -10).attr("font-family", SERIF).attr("font-size", 64).text("\u2002[");
yt.append("tspan").attr("font-family", SERIF).attr("font-style", "italic").attr("font-size", 64).text("W");
yt.append("tspan").attr("font-family", SERIF).attr("font-size", 64).text("/");
yt.append("tspan").attr("font-family", SERIF).attr("font-style", "italic").attr("font-size", 64).text("m");
yt.append("tspan").attr("font-family", SERIF).attr("font-size", 44).attr("dy", -25).text("2");
yt.append("tspan").attr("font-family", SERIF).attr("font-size", 64).attr("dy", 25).text("]");

// Spearman correlation note
const note = svg.append("text")
  .attr("y", 213)
  .attr("font-family", SANS).attr("font-size", 54).attr("fill", "#000");
note.append("tspan").attr("x", 239).attr("font-family", SERIF).attr("font-style", "italic").attr("font-size", 60).text("r");
note.append("tspan").attr("x", 262).attr("font-family", SERIF).attr("font-style", "italic").attr("font-size", 40).attr("dy", 10).text("s");
note.append("tspan").attr("x", 284).attr("dy", -10).text("=" + correlationText.coefficient);
note.append("tspan").attr("x", 473).attr("font-family", SERIF).attr("font-size", 60).text("\u00B1");
note.append("tspan").attr("x", 531).text(correlationText.error);

// legend
const legend = svg.append("g");
legend.append("rect")
  .attr("x", 1001).attr("y", 1130).attr("width", 357).attr("height", 116)
  .attr("fill", "#fff").attr("stroke", "#000").attr("stroke-width", 3);
legend.append("line")
  .attr("x1", 1036).attr("x2", 1129).attr("y1", 1184.5).attr("y2", 1184.5)
  .attr("stroke", "#ff0000").attr("stroke-width", 10);
const legendText = legend.append("text").attr("y", 1203)
  .attr("font-family", SERIF).attr("fill", "#000");
legendText.append("tspan").attr("x", 1198).attr("font-size", 66).text("\u221D");
legendText.append("tspan").attr("x", 1252).attr("font-style", "italic").attr("font-size", 64).text("R");
legendText.append("tspan").attr("x", 1303).attr("dy", 14).attr("font-size", 40).text("\u03A6");
legendText.append("tspan").attr("x", 1307).attr("dy", -42).attr("font-size", 38).text("2");
</script>
</body>
</html>
